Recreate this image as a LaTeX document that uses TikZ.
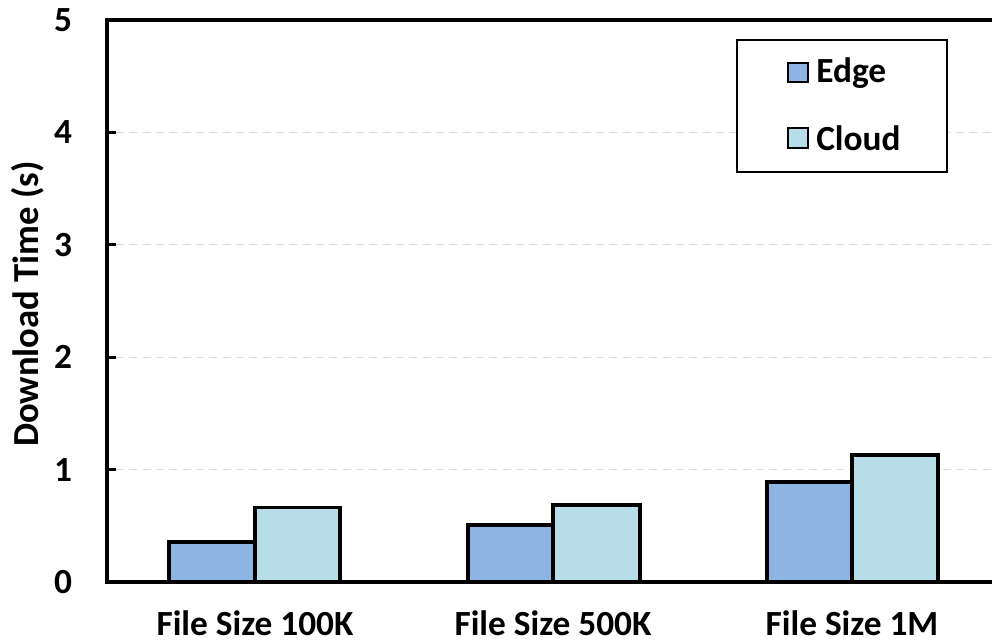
\documentclass[tikz,border=0pt]{standalone}
\usepackage{fontspec}
\setmainfont{Carlito}
\definecolor{edgeblue}{HTML}{8EB4E3}
\definecolor{cloudblue}{HTML}{B7DEE8}
\definecolor{gridgray}{HTML}{D9D9D9}
\begin{document}
\begin{tikzpicture}[x=0.75pt,y=-0.75pt,
  lbl/.style={font=\bfseries\fontsize{26.5}{31}\selectfont, inner sep=0pt},
  bar/.style={draw=black, line width=2.3pt},
  grid line/.style={gridgray, line width=0.9pt, dash pattern=on 6pt off 4pt},
  axis line/.style={black, line width=2.4pt}
]
\useasboundingbox (0,0) rectangle (992,643);
% value 0 at y=582, value 5 at y=20
\def\yzero{582}
\def\unit{112.4}
% horizontal grid lines
\foreach \v in {1,2,3,4}
  \draw[grid line] (116,{\yzero-\v*\unit}) -- (992,{\yzero-\v*\unit});
% bars
\foreach \xl/\xm/\xr/\e/\c/\n in {169/255/340/0.356/0.667/a, 468/553/640/0.507/0.685/b, 767/852/938/0.89/1.13/c}{
  \draw[bar, fill=edgeblue] (\xl,\yzero) rectangle (\xm,{\yzero-\e*\unit});
  \draw[bar, fill=cloudblue] (\xm,\yzero) rectangle (\xr,{\yzero-\c*\unit});
}
% axes and top frame line
\draw[axis line] (992,20) -- (107,20) -- (107,\yzero) -- (992,\yzero);
\foreach \v in {0,1,2,3,4,5}{
  \draw[axis line] (107,{\yzero-\v*\unit}) -- (116,{\yzero-\v*\unit});
  \node[lbl] (t\v) at (63,{\yzero-\v*\unit}) {\v};
}
% category labels, set on a common baseline
\node[lbl, anchor=base] (c1) at (255,635) {File Size 100K};
\node[lbl, anchor=base] (c2) at (553,635) {File Size 500K};
\node[lbl, anchor=base] (c3) at (852,635) {File Size 1M};
% axis title
\node[lbl, font=\bfseries\fontsize{27.5}{32}\selectfont, rotate=90] (ytitle) at (28,304) {Download Time (s)};
% legend
\draw[fill=white, line width=2.2pt] (737,40) rectangle (947,172);
\draw[bar, line width=1.9pt, fill=edgeblue] (788,63) rectangle (808,82);
\draw[bar, line width=1.9pt, fill=cloudblue] (788,128) rectangle (808,148);
\node[lbl, anchor=west] (le) at (816,73) {Edge};
\node[lbl, anchor=west] (lc) at (816,138) {Cloud};
\end{tikzpicture}
\end{document}
